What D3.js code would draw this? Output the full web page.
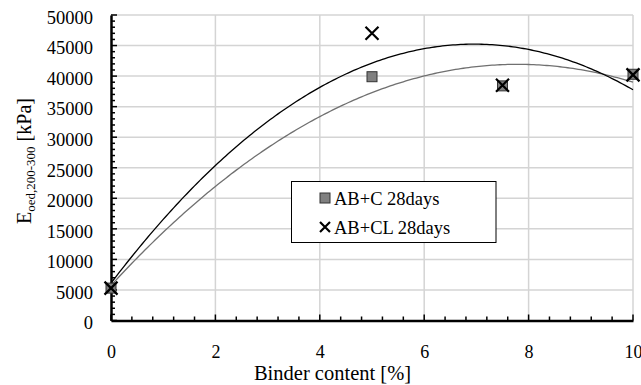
<!DOCTYPE html>
<html>
<head>
<meta charset="utf-8">
<script src="https://cdn.jsdelivr.net/npm/d3@7"></script>
<style>
  html, body { margin: 0; padding: 0; background: #fff; }
  svg { display: block; }
</style>
</head>
<body>
<svg id="chart" width="641" height="385"></svg>
<script>
// Binder content [%]
const binderContent = [0, 5, 7.5, 10];
// Oedometer modulus E_oed,200-300 [kPa]
const abC28 = [5300, 39900, 38400, 40300];
const abCL28 = [5300, 47000, 38500, 40200];
const seriesNames = ["AB+C 28days", "AB+CL 28days"];
const xTicks = [0, 2, 4, 6, 8, 10];
const yTicks = [0, 5000, 10000, 15000, 20000, 25000, 30000, 35000, 40000, 45000, 50000];

const FONT = '"Liberation Serif", "Times New Roman", serif';
const svg = d3.select("#chart");
const m = { left: 111, right: 633, top: 15, bottom: 320.5 };

const x = d3.scaleLinear().domain([0, 10]).range([m.left, m.right]);
const y = d3.scaleLinear().domain([0, 50000]).range([m.bottom, m.top]);

// second-order least squares fit, same as a polynomial trendline
function quadFit(xs, ys) {
  const n = xs.length;
  let s = [0, 0, 0, 0, 0], t = [0, 0, 0];
  for (let i = 0; i < n; i++) {
    for (let k = 0; k < 5; k++) s[k] += Math.pow(xs[i], k);
    for (let k = 0; k < 3; k++) t[k] += ys[i] * Math.pow(xs[i], k);
  }
  const A = [[s[0], s[1], s[2], t[0]], [s[1], s[2], s[3], t[1]], [s[2], s[3], s[4], t[2]]];
  for (let i = 0; i < 3; i++) {
    for (let j = i + 1; j < 3; j++) {
      const f = A[j][i] / A[i][i];
      for (let k = i; k < 4; k++) A[j][k] -= f * A[i][k];
    }
  }
  const c = [0, 0, 0];
  for (let i = 2; i >= 0; i--) {
    let v = A[i][3];
    for (let k = i + 1; k < 3; k++) v -= A[i][k] * c[k];
    c[i] = v / A[i][i];
  }
  return xv => c[0] + c[1] * xv + c[2] * xv * xv;
}

// gridlines
const grid = svg.append("g").attr("stroke", "#d4d4d4").attr("stroke-width", 1.5);
yTicks.filter(d => d > 0).forEach(d => {
  grid.append("line").attr("x1", m.left).attr("x2", m.right).attr("y1", y(d)).attr("y2", y(d));
});
xTicks.filter(d => d > 0).forEach(d => {
  grid.append("line").attr("x1", x(d)).attr("x2", x(d)).attr("y1", m.top).attr("y2", m.bottom);
});

// trendlines
const samples = d3.range(0, 10.0001, 0.05);
const line = d3.line().x(d => x(d[0])).y(d => y(d[1]));
const fitC = quadFit(binderContent, abC28);
const fitCL = quadFit(binderContent, abCL28);
svg.append("path").attr("d", line(samples.map(v => [v, fitC(v)])))
  .attr("fill", "none").attr("stroke", "#707070").attr("stroke-width", 1.3);
svg.append("path").attr("d", line(samples.map(v => [v, fitCL(v)])))
  .attr("fill", "none").attr("stroke", "#000").attr("stroke-width", 1.3);

// axes
const yAxis = d3.axisLeft(y).tickValues(yTicks).tickSize(0).tickPadding(18).tickFormat(d3.format("d"));
const gy = svg.append("g").attr("transform", `translate(${m.left},0)`).call(yAxis);
gy.select(".domain").attr("stroke", "#000").attr("stroke-width", 2.5);
gy.selectAll(".tick text").attr("dy", "0.45em")
  .style("font-family", FONT).style("font-size", "18.5px").style("fill", "#000");
const xAxis = d3.axisBottom(x).tickValues(xTicks).tickSize(0).tickPadding(25);
const gx = svg.append("g").attr("transform", `translate(0,${m.bottom})`).call(xAxis);
gx.select(".domain").attr("stroke", "#000").attr("stroke-width", 2.5);
gx.selectAll(".tick text")
  .style("font-family", FONT).style("font-size", "18px").style("fill", "#000");

// inward minor/major tick marks
const tk = svg.append("g").attr("stroke", "#000").attr("stroke-width", 1.5);
d3.range(0, 50001, 1000).forEach(d => {
  const len = d % 5000 === 0 ? 6 : 4;
  tk.append("line").attr("x1", m.left).attr("x2", m.left + len).attr("y1", y(d)).attr("y2", y(d));
});
d3.range(0, 10.001, 0.4).forEach(d => {
  const major = Math.abs(d / 2 - Math.round(d / 2)) < 1e-6;
  const len = major ? 6 : 4;
  tk.append("line").attr("x1", x(d)).attr("x2", x(d)).attr("y1", m.bottom).attr("y2", m.bottom - len);
});

// markers
function square(g, cx, cy, s) {
  g.append("rect").attr("x", cx - s / 2).attr("y", cy - s / 2).attr("width", s).attr("height", s)
    .attr("fill", "#808080").attr("stroke", "#333").attr("stroke-width", 1);
}
function cross(g, cx, cy, s) {
  g.append("path").attr("d", `M${cx - s / 2},${cy - s / 2}L${cx + s / 2},${cy + s / 2}M${cx - s / 2},${cy + s / 2}L${cx + s / 2},${cy - s / 2}`)
    .attr("stroke", "#000").attr("stroke-width", 2.2).attr("fill", "none");
}
const mk = svg.append("g");
binderContent.forEach((b, i) => square(mk, x(b), y(abC28[i]), 10));
binderContent.forEach((b, i) => cross(mk, x(b), y(abCL28[i]), 13));

// axis titles
svg.append("text").attr("x", 332.5).attr("y", 380).attr("text-anchor", "middle")
  .style("font-family", FONT).style("font-size", "20.5px").style("fill", "#000")
  .text("Binder content [%]");
const yt = svg.append("text").attr("transform", "translate(31,161) rotate(-90)")
  .attr("text-anchor", "middle")
  .style("font-family", FONT).style("font-size", "20px").style("fill", "#000");
yt.append("tspan").text("E");
yt.append("tspan").style("font-size", "13px").attr("dy", 4).text("oed,200-300");
yt.append("tspan").attr("dy", -4).text(" [kPa]");

// legend
const lg = svg.append("g");
lg.append("rect").attr("x", 291.5).attr("y", 181.5).attr("width", 204.5).attr("height", 61)
  .attr("fill", "#fff").attr("stroke", "#000").attr("stroke-width", 1);
square(lg, 325, 198, 10);
lg.append("text").attr("x", 334).attr("y", 204.5).text(seriesNames[0])
  .style("font-family", FONT).style("font-size", "18.5px").style("fill", "#000");
cross(lg, 325, 227, 10);
lg.append("text").attr("x", 334).attr("y", 234).text(seriesNames[1])
  .style("font-family", FONT).style("font-size", "18.5px").style("fill", "#000");
</script>
</body>
</html>
